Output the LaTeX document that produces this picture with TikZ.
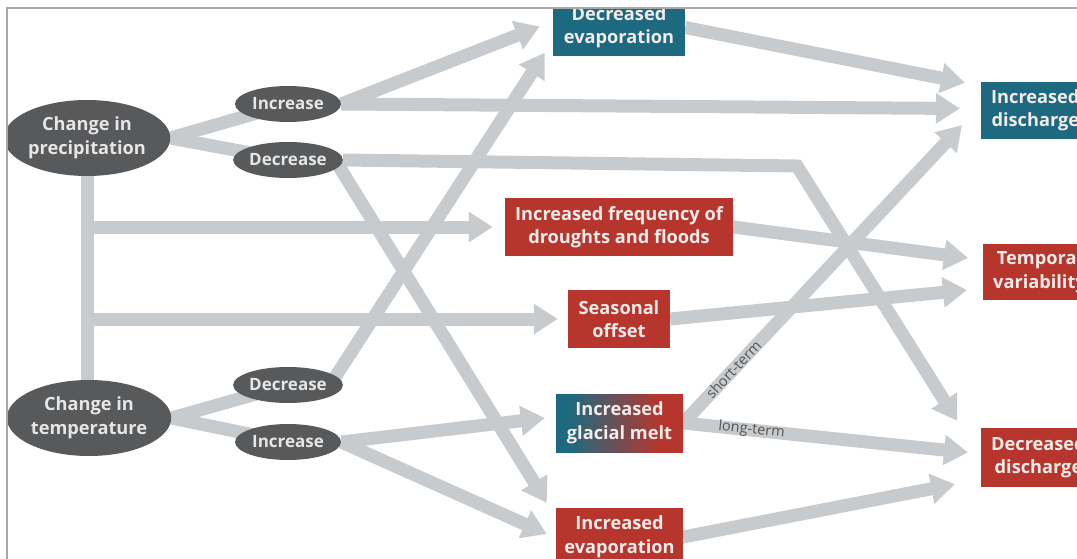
\documentclass[tikz,border=0pt]{standalone}
\usepackage{fontspec}
\setmainfont{Open Sans}
\usetikzlibrary{arrows.meta,calc,backgrounds,shapes.geometric}

\definecolor{flow}{HTML}{C8CBCE}
\definecolor{ovalgray}{HTML}{58595B}
\definecolor{ovaltext}{HTML}{E6E6E6}
\definecolor{boxteal}{HTML}{1D6A80}
\definecolor{boxred}{HTML}{B6362D}
\definecolor{boxtext}{HTML}{F4ECEA}
\definecolor{framegray}{HTML}{A8A8A8}
\definecolor{labelgray}{HTML}{555555}

\pgfdeclarehorizontalshading{meltshade}{100bp}{color(0bp)=(boxteal); color(30bp)=(boxteal); color(66bp)=(boxred); color(100bp)=(boxred)}

\begin{document}
\begin{tikzpicture}[x=1pt,y=-1pt,
  txt/.style={font=\bfseries\fontsize{18.2}{23.5}\selectfont, align=center},
  bigoval/.style={txt, ellipse, fill=ovalgray, text=ovaltext, inner sep=0pt, minimum width=162, minimum height=76},
  smalloval/.style={ellipse, fill=ovalgray, text=ovaltext, inner sep=0pt, minimum width=106, minimum height=36,
    font=\bfseries\fontsize{17}{21}\selectfont},
  tealbox/.style={txt, rectangle, fill=boxteal, text=boxtext, inner xsep=8pt},
  redbox/.style={txt, rectangle, fill=boxred, text=boxtext, inner xsep=8pt},
  meltbox/.style={txt, rectangle, shading=meltshade, text=boxtext, inner xsep=8pt},
  link/.style={draw=flow, line width=13pt},
  arr/.style={link, -{Triangle[width=29pt,length=24pt]}},
  termlabel/.style={font=\fontsize{14.5}{16}\selectfont, text=labelgray, inner sep=1pt}]

\useasboundingbox (0,0) rectangle (1077,559);

\begin{scope}
  \clip (8,9) rectangle (1077,559);
  % causes
  \node[bigoval] (prec) at (87,138) {Change in\\precipitation};
  \node[smalloval] (pinc) at (288,104) {Increase};
  \node[smalloval] (pdec) at (288,160) {Decrease};
  \node[bigoval] (temp) at (89,418) {Change in\\temperature};
  \node[smalloval] (tdec) at (288,385) {Decrease};
  \node[smalloval] (tinc) at (288,442) {Increase};
  % intermediate effects
  \node[tealbox, minimum width=132, minimum height=58] (devap) at (619,27.5) {Decreased\\evaporation};
  \node[redbox, minimum width=228, minimum height=58] (freq) at (619,227) {Increased frequency of\\droughts and floods};
  \node[redbox, minimum width=102, minimum height=58] (seas) at (619,319) {Seasonal\\offset};
  \node[meltbox, minimum width=127, minimum height=58] (glac) at (619.5,423) {Increased\\glacial melt};
  \node[redbox, minimum width=127, minimum height=58] (ievap) at (619.5,537) {Increased\\evaporation};
  % outcomes
  \node[tealbox, anchor=west, minimum height=57, inner xsep=10pt] (idis) at (981,110.5) {Increased\\discharge};
  \node[redbox, anchor=west, minimum height=56, inner xsep=10pt] (tvar) at (983,272) {Temporal\\variability};
  \node[redbox, anchor=west, minimum height=59, inner xsep=10pt] (ddis) at (981,457.5) {Decreased\\discharge};
\end{scope}

\begin{scope}[on background layer]
  % branches from the two drivers
  \draw[link] (prec.east) -- (pinc.center);
  \draw[link] (prec.east) -- (pdec.center);
  \draw[link] (temp.east) -- (tdec.center);
  \draw[link] (temp.east) -- (tinc.center);
  \draw[link] (prec.center) -- (prec |- temp.center);
  \draw[arr] (prec |- freq.west) -- ($(freq.west)+(-12,0)$);
  \draw[arr] (prec |- seas.west) -- ($(seas.west)+(-10,0)$);
  % precipitation increase / decrease
  \draw[arr] (pinc.east) -- ($(devap.west)+(-13,-1)$);
  \draw[arr] (pinc.east) -- ($(idis.west)+(-21,-2)$);
  \coordinate (elbow) at (797,166);
  \draw[arr] (pdec.east) -- (elbow) -- ($(ddis.north west)+(-24,-7)$);
  \draw[arr] ($(pdec.east)+(-8,0)$) -- ($(ievap.north west)+(-9,-5)$);
  % temperature decrease / increase
  \draw[arr] ($(tdec.east)+(-13,0)$) -- ($(devap.south west)+(-8,-4)$);
  \draw[arr] (tinc.east) -- ($(glac.west)+(-11,-5)$);
  \draw[arr] (tinc.east) -- ($(ievap.west)+(-9,-3)$);
  % towards the discharge outcomes
  \draw[arr] (devap.east) -- ($(idis.north west)+(-16,1)$);
  \draw[arr] (glac.east) -- ($(idis.south west)+(-19,-14)$)
    node[termlabel, pos=0.18, sloped] {short-term};
  \draw[arr] (glac.east) -- ($(ddis.west)+(-13,-5)$)
    node[termlabel, pos=0.24, sloped] {long-term};
  \draw[arr] (freq.east) -- ($(tvar.west)+(-15,-14)$);
  \draw[arr] (seas.east) -- ($(tvar.west)+(-16,18)$);
  \draw[arr] (ievap.east) -- ($(ddis.south west)+(-26,-3)$);
\end{scope}

% frame
\draw[framegray, line width=2pt] (7,559) -- (7,8) -- (1077,8);
\end{tikzpicture}
\end{document}
